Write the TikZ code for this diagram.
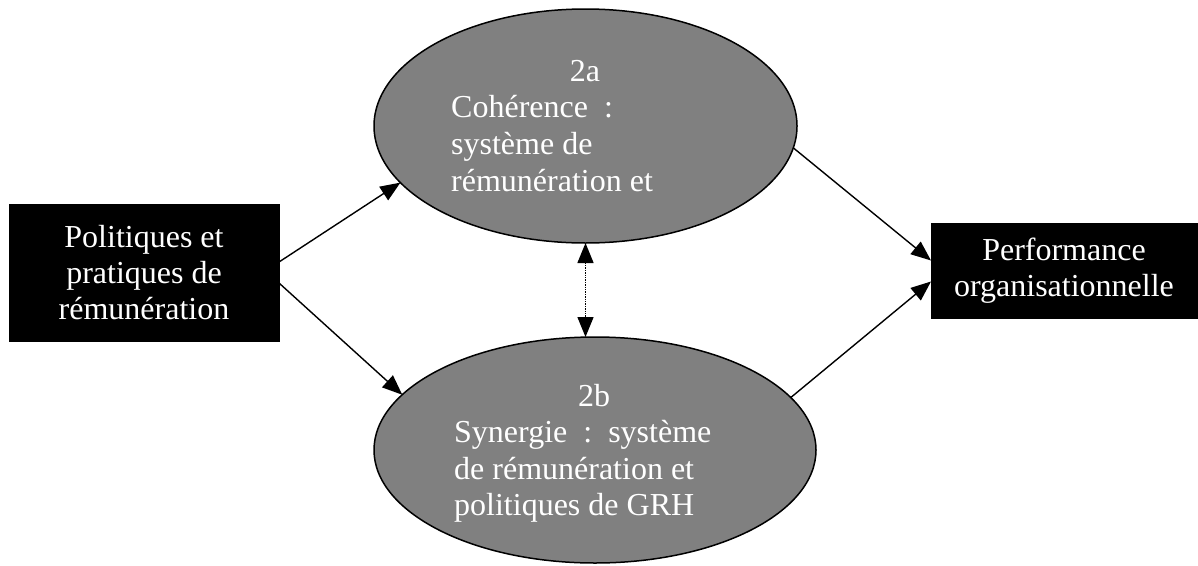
\documentclass[tikz,border=0pt]{standalone}
\usepackage{fontspec}
\setmainfont{Liberation Serif}
\usetikzlibrary{arrows.meta,shapes.geometric}
\definecolor{gray50}{RGB}{128,128,128}
\tikzset{
  box/.style={rectangle,fill=black,draw=black,text=white,align=center,inner sep=0pt,outer sep=0pt,font=\fontsize{32}{36}\selectfont},
  oval/.style={ellipse,fill=gray50,draw=black,line width=1.5pt,inner sep=0pt,outer sep=0pt},
  lbl/.style={text=white,inner sep=0pt,font=\fontsize{32}{36}\selectfont},
  tip/.style={},
  conn/.style={line width=1.4pt,-{Triangle[length=20pt,width=16pt]}},
  dconn/.style={line width=1.4pt,densely dotted,{Triangle[length=20pt,width=16pt]}-{Triangle[length=20pt,width=16pt]}}
}
\begin{document}
\begin{tikzpicture}[x=1pt,y=-1pt]
\useasboundingbox (0,0) rectangle (1198,565);
\node[box,minimum width=270pt,minimum height=137pt] (l) at (144,273) {Politiques et\\pratiques de\\rémunération};
\node[box,minimum width=266pt,minimum height=95pt] (r) at (1064,270.5) {Performance\\organisationnelle};
\node[oval,minimum width=423pt,minimum height=234pt] (a) at (585.5,126) {};
\node[oval,minimum width=442pt,minimum height=226pt] (b) at (595,450) {};
\node[lbl,anchor=base] (a0) at (585,81) {2a};
\node[lbl,anchor=base west] (a1) at (451,117) {Cohérence\ \ :};
\node[lbl,anchor=base west] (a2) at (451,154) {système de};
\node[lbl,anchor=base west] (a3) at (451,191) {rémunération et};
\node[lbl,anchor=base] (b0) at (594,406) {2b};
\node[lbl,anchor=base west] (b1) at (454,442) {Synergie\ \ :\ \ système};
\node[lbl,anchor=base west] (b2) at (454,479) {de rémunération et};
\node[lbl,anchor=base west] (b3) at (454,515) {politiques de GRH};
\draw[conn] ([yshift=11pt]l.east) -- (a.197);
\draw[conn] ([yshift=-10pt]l.east) -- (b.164);
\draw[conn] (a.-6) -- ([yshift=10pt]r.west);
\draw[conn] (b.15) -- ([yshift=-11pt]r.west);
\draw[dconn] (a.south) -- (a.south |- b.north);
\end{tikzpicture}
\end{document}
